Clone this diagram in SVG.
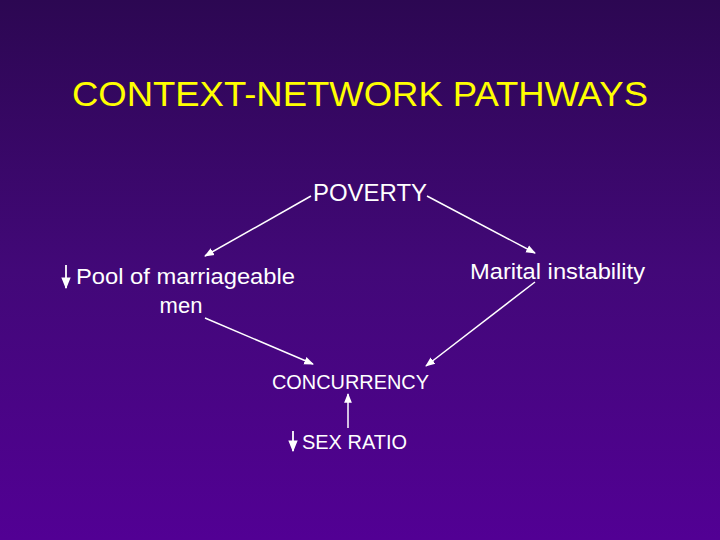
<svg xmlns="http://www.w3.org/2000/svg" width="720" height="540" viewBox="0 0 720 540">
<defs>
<linearGradient id="bg" x1="0" y1="0" x2="0" y2="1">
<stop offset="0" stop-color="#2c0752"/>
<stop offset="0.5" stop-color="#420878"/>
<stop offset="1" stop-color="#520094"/>
</linearGradient>
<marker id="ahs" viewBox="0 0 10 10" refX="9" refY="5" markerWidth="6.5" markerHeight="6.5" orient="auto">
<path d="M0,1 L10,5 L0,9 z" fill="#ffffff"/>
</marker>
</defs>
<style>
.t{font-family:"Liberation Sans",Arial,sans-serif;fill:#ffffff}
.title{font-family:"Liberation Sans",Arial,sans-serif;fill:#ffff00;font-size:35px}
.c{stroke:#ffffff;stroke-width:1.5;fill:none;marker-end:url(#ahs)}
.d{stroke:#ffffff;stroke-width:1.8;fill:none;marker-end:url(#ahs)}
</style>
<rect width="720" height="540" fill="url(#bg)"/>
<text class="title" x="72" y="106" textLength="576" lengthAdjust="spacingAndGlyphs">CONTEXT-NETWORK PATHWAYS</text>
<g id="poverty"><text class="t" x="313" y="201" font-size="23" textLength="114" lengthAdjust="spacingAndGlyphs">POVERTY</text></g>
<g id="pool">
<line class="d" x1="66" y1="265" x2="66" y2="288"/>
<text class="t" x="76" y="284" font-size="22" textLength="219" lengthAdjust="spacingAndGlyphs">Pool of marriageable</text>
<text class="t" x="181" y="313" font-size="22" text-anchor="middle">men</text>
</g>
<g id="marital"><text class="t" x="470" y="279" font-size="22" textLength="175" lengthAdjust="spacingAndGlyphs">Marital instability</text></g>
<g id="concurrency"><text class="t" x="272" y="389" font-size="20" textLength="157" lengthAdjust="spacingAndGlyphs">CONCURRENCY</text></g>
<g id="sexratio">
<line class="d" x1="293" y1="431" x2="293" y2="451"/>
<text class="t" x="302" y="449" font-size="20" textLength="105" lengthAdjust="spacingAndGlyphs">SEX RATIO</text>
</g>
<g id="connectors">
<line class="c" x1="311" y1="196" x2="205" y2="256"/>
<line class="c" x1="427" y1="196" x2="535" y2="253"/>
<line class="c" x1="205" y1="318" x2="313" y2="364"/>
<line class="c" x1="535" y1="282" x2="426" y2="366"/>
<line class="c" x1="348" y1="428" x2="348" y2="394"/>
</g>
</svg>
